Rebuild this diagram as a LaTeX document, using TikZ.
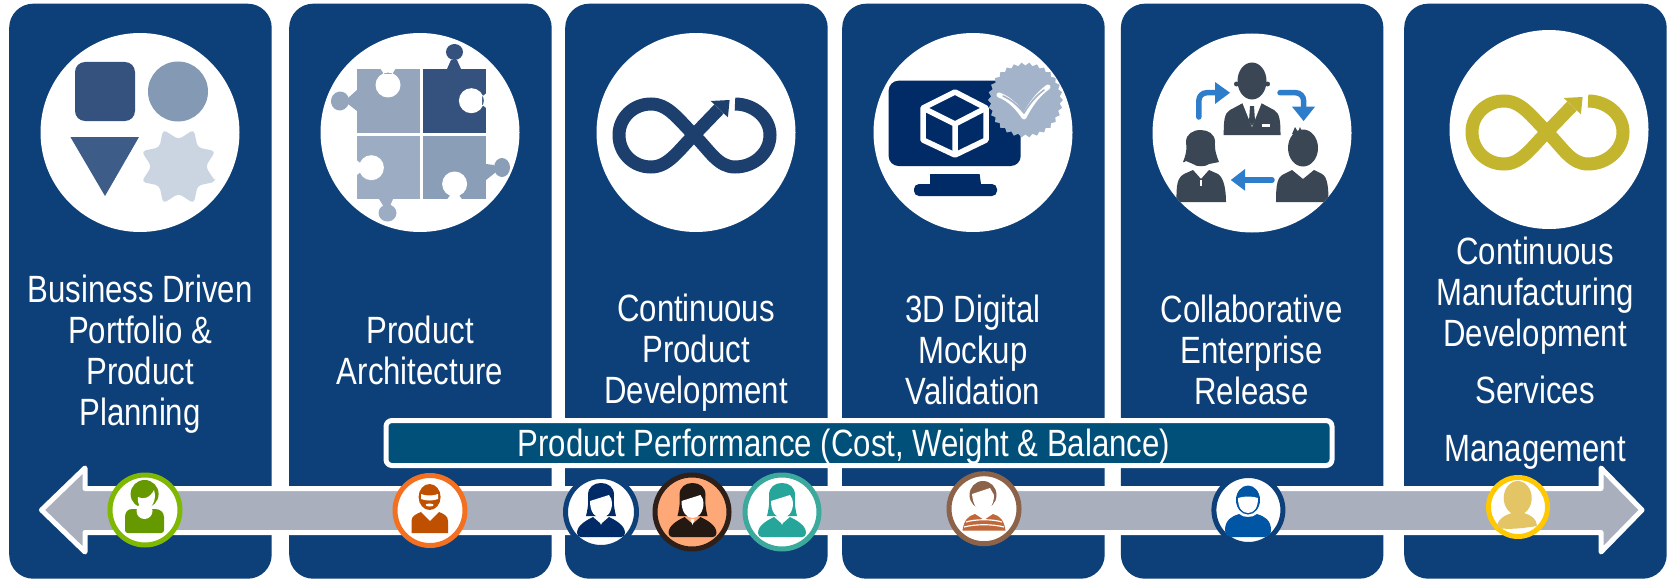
\documentclass[tikz,border=0pt]{standalone}
\usepackage{fontspec}
\setmainfont[FakeStretch=0.82]{Liberation Sans}
\definecolor{panelc}{HTML}{0D3F78}
\definecolor{bandc}{HTML}{A9AFBD}
\definecolor{titlec}{HTML}{00507A}
\definecolor{inkc}{HTML}{1C3F6E}
\definecolor{goldc}{HTML}{C4B52E}
\definecolor{navyc}{HTML}{002B66}
\definecolor{darkp}{HTML}{3A4654}
\definecolor{arrowb}{HTML}{2E7DCB}
\definecolor{sealc}{HTML}{A3B3CA}
\definecolor{pza}{HTML}{95A6BC}
\definecolor{pzb}{HTML}{35527F}
\definecolor{pzc}{HTML}{9CADC3}
\definecolor{pzd}{HTML}{8A9EB8}
\tikzset{
  x=1pt,y=-1pt,
  panel/.style={fill=panelc,rounded corners=24pt,minimum width=262.5pt,minimum height=575pt,anchor=north west,inner sep=0pt},
  disc/.style={circle,fill=white,minimum size=199pt,inner sep=0pt},
  caption/.style={align=center,text=white,font=\fontsize{38}{41}\selectfont,inner sep=0pt},
  avatar/.style={circle,line width=5pt,fill=white,inner sep=0pt},
  pics/infloop/.style={code={
    \draw[line width=13pt]
      (41,-31) .. controls (60,-31) and (76,-17) .. (76,0)
      .. controls (76,18) and (60,32) .. (41,32)
      .. controls (24,32) and (16,16) .. (0,0)
      .. controls (-16,-16) and (-26,-31) .. (-43,-31)
      .. controls (-61,-31) and (-75,-17) .. (-75,0)
      .. controls (-75,18) and (-61,32) .. (-43,32)
      .. controls (-26,32) and (-16,16) .. (0,0) -- (25,-26);
    \fill (16.7,-34) -- (35.6,-35) -- (33.9,-17.7) -- cycle;
  }},
  pics/longhair/.style={code={
    \fill (-15,4) .. controls (-12,-8) and (-13,-12) .. (-13,-17) .. controls (-13,-25) and (-7,-29) .. (0,-29)
      .. controls (7,-29) and (13,-25) .. (13,-17) .. controls (13,-12) and (12,-8) .. (15,4) -- cycle;
    \fill[white] (-11,-11) -- (8,-17) .. controls (10,-14) and (11,-12) .. (11,-9) .. controls (11,0) and (6,6) .. (0,6) .. controls (-6,6) and (-11,0) .. (-11,-11) -- cycle;
    \fill (-24,21) .. controls (-24,13) and (-14,8) .. (-8,5) -- (0,12) -- (8,5) .. controls (14,8) and (24,13) .. (24,21)
      .. controls (24,24) and (22,25) .. (20,25) -- (-20,25) .. controls (-22,25) and (-24,24) .. (-24,21) -- cycle;
    \fill[white] (-2,7) -- (2,7) -- (0,13) -- cycle;
  }}
}
\begin{document}
\begin{tikzpicture}
\useasboundingbox (0,0) rectangle (1667,578);
\fill[white] (0,0) rectangle (1667,578);
% panels
\node[panel] (p1) at (9,3.5) {};
\node[panel] (p2) at (289,3.5) {};
\node[panel] (p3) at (565,3.5) {};
\node[panel] (p4) at (842,3.5) {};
\node[panel] (p5) at (1120.7,3.5) {};
\node[panel] (p6) at (1404,3.5) {};
% discs
\node[disc] (c1) at (140,132.5) {};
\node[disc] (c2) at (420,132.5) {};
\node[disc] (c3) at (696,132.5) {};
\node[disc] (c4) at (973,132.5) {};
\node[disc] (c5) at (1252,133) {};
\node[disc] (c6) at (1549,129.5) {};
% captions
\node[caption] (t1) at (140,354) {Business Driven\\Portfolio \&\\Product\\Planning};
\node[caption] (t2) at (420,350) {Product\\Architecture};
\node[caption] (t3) at (696,353) {Continuous\\Product\\Development};
\node[caption] (t4) at (973,350) {3D Digital\\Mockup\\Validation};
\node[caption] (t5) at (1251.5,350) {Collaborative\\Enterprise\\Release};
\node[caption] (t6) at (1535,353) {Continuous\\Manufacturing\\Development\\[16pt]Services\\[17pt]Management};
% icon 1: shapes
\fill[pzb,rounded corners=10pt] (75,62) rectangle (135,121);
\fill[color={rgb,255:red,132;green,153;blue,179}] (178,91.5) circle [radius=30];
\fill[color={rgb,255:red,61;green,92;blue,135}] (70.4,137) -- (139,137) -- (105,196) -- cycle;
\begin{scope}[shift={(178.5,166.5)}]
\fill[color={rgb,255:red,203;green,212;blue,225},rounded corners=4pt]
  (22.5:40) \foreach \a in {45,90,...,360} {-- (\a:27) -- (\a+22.5:40)} -- cycle;
\end{scope}
% icon 2: puzzle
\fill[pza] (357,69) rectangle (420,133);
\fill[pzb] (423,69) rectangle (486,133);
\fill[pzc] (357,136) rectangle (420,199);
\fill[pzd] (423,136) rectangle (486,199);
\fill[white] (388,85) circle [radius=12.5] (384,74) -- (392,74) -- (396,68) -- (380,68) -- cycle;
\fill[white] (471.4,100.7) circle [radius=12.5] (482,96.7) -- (482,104.7) -- (487,108.7) -- (487,92.7) -- cycle;
\fill[white] (371.4,167.7) circle [radius=12.5] (361,163.7) -- (361,171.7) -- (356,175.7) -- (356,159.7) -- cycle;
\fill[white] (454.6,184) circle [radius=12.5] (450.6,195) -- (458.6,195) -- (462.6,200) -- (446.6,200) -- cycle;
\fill[pza] (357,90) -- (348,98) -- (348,104) -- (357,111) -- cycle;
\fill[pza,rotate around={-15:(340,101)}] (340,101) circle [x radius=9,y radius=9.5];
\fill[pzb] (447,69) -- (451,60) -- (457,60) -- (461,69) -- cycle;
\fill[pzb] (454.5,52) circle [x radius=8.5,y radius=8];
\fill[pzc] (379,199) -- (384,207) -- (390,206) -- (393,199) -- cycle;
\fill[pzc] (387.5,213) circle [x radius=9,y radius=8.5];
\fill[pzd] (486,164) -- (494,165) -- (496,172) -- (486,180) -- cycle;
\fill[pzd] (502,167.5) circle [x radius=8,y radius=9.5];
% icon 3 and 6: infinity
\pic[color=inkc] at (694,135) {infloop};
\pic[color=goldc] at (1547,132) {infloop};
% icon 4: monitor
\fill[navyc,rounded corners=10pt] (888.6,80.7) rectangle (1020.7,166);
\fill[navyc] (930,174) -- (979.6,174) -- (981,184) -- (930,184) -- cycle;
\fill[navyc,rounded corners=5pt] (914,184) rectangle (997,196);
\draw[white,line width=5.5pt,line join=round] (955,92) -- (986,108) -- (986,140) -- (955,155) -- (923,140) -- (923,108) -- cycle;
\draw[white,line width=5.5pt,line join=round] (923,108) -- (955,124) -- (986,108) (955,124) -- (955,155);
\begin{scope}[shift={(1025.4,100)}]
\fill[sealc] (0:37.5) \foreach \i in {0,...,29} {-- ({\i*12}:37.5) -- ({\i*12+6}:34.5)} -- cycle;
\end{scope}
\draw[white,line width=5pt,line join=round,line cap=round] (999,95) .. controls (1010,99) and (1018,108) .. (1024,117) .. controls (1030,105) and (1038,94) .. (1048,87);
\draw[sealc,line width=1.6pt,line join=round,line cap=round] (1003,96) .. controls (1012,100) and (1018,106) .. (1024,113) .. controls (1030,103) and (1036,96) .. (1044,90);
% icon 5: team
\begin{scope}
\clip (1252,133) circle [radius=99.5];
\fill[darkp] (1252,81) circle [x radius=14.5,y radius=18.5];
\fill[darkp] (1236.5,84) circle [radius=2.5] (1267.5,84) circle [radius=2.5];
\fill[darkp] (1223.7,135) .. controls (1223.7,122) and (1224,113) .. (1230,110) -- (1243,103) -- (1261,103) -- (1274,110) .. controls (1280,113) and (1280.5,122) .. (1280.5,135) -- cycle;
\fill[white] (1242,102) -- (1262,102) -- (1252,127) -- cycle;
\fill[darkp] (1250,106) -- (1254,106) -- (1255,121) -- (1252,126) -- (1249,121) -- cycle;
\fill[white] (1262,123.5) rectangle (1270,126.5);
\fill[darkp] (1186,161) .. controls (1183,163) and (1184,162) .. (1183,162) .. controls (1188,150) and (1186,145) .. (1186,142) .. controls (1186,134) and (1193,130) .. (1200.6,130) .. controls (1208,130) and (1215,134) .. (1215,142) .. controls (1215,145) and (1214,150) .. (1219,162) -- (1209,164) .. controls (1206,167) and (1196,167) .. (1193,164) -- cycle;
\fill[darkp] (1176.4,202) .. controls (1176.4,185) and (1177,178) .. (1184,174) -- (1193,170) -- (1201,179) -- (1209,170) -- (1218,174) .. controls (1224,178) and (1226,190) .. (1226,202) -- cycle;
\fill[white] (1200.4,180) rectangle (1201.6,186);
\fill[darkp] (1303,148) circle [x radius=15,y radius=18.5];
\fill[darkp] (1292,134) -- (1295,127) -- (1298,132) -- (1300,127) -- (1302,132) -- (1306,130) -- (1306,136) -- cycle;
\fill[darkp] (1276,202) .. controls (1276,185) and (1277,177) .. (1284,174) -- (1292,170) -- (1303,179) -- (1314,170) -- (1322,174) .. controls (1328,177) and (1328.5,190) .. (1328.5,202) -- cycle;
\end{scope}
\draw[arrowb,line width=5.5pt,line cap=round,rounded corners=8pt] (1198.8,117) -- (1198.8,92.7) -- (1217,92.7);
\fill[arrowb] (1215,82) -- (1230,92.7) -- (1215,104) -- cycle;
\draw[arrowb,line width=5.5pt,line cap=round,rounded corners=8pt] (1280,92.7) -- (1303.6,92.7) -- (1303.6,108);
\fill[arrowb] (1292,106.7) -- (1315,106.7) -- (1303.6,121) -- cycle;
\draw[arrowb,line width=5.5pt,line cap=round] (1272,180) -- (1244,180);
\fill[arrowb] (1245,169) -- (1230.8,180) -- (1245,190.7) -- cycle;
% timeline arrow
\draw[white,line width=5pt,line join=round,fill=bandc]
  (41.5,510) -- (85,468) -- (85,488.5) -- (1601,488.5) -- (1601,468) -- (1642,510) -- (1601,552) -- (1601,532.5) -- (85,532.5) -- (85,552) -- cycle;
% title bar
\node[draw=white,line width=5pt,fill=titlec,rounded corners=6pt,minimum width=946pt,minimum height=45pt,inner sep=0pt,text=white,font=\fontsize{38}{41}\selectfont] (bar) at (859,443) {\raisebox{-13pt}[0pt][0pt]{Product Performance (Cost, Weight \& Balance)}\hspace*{30pt}};
% avatars
\node[avatar,draw={rgb,255:red,127;green,184;blue,0},minimum size=70pt] (a1) at (145,510) {};
\begin{scope}[color={rgb,255:red,102;green,153;blue,0}]
\fill (144.6,494) circle [radius=14];
\fill[white] (138,497) .. controls (143,500) and (150,498) .. (154,490) .. controls (157,500) and (152,509) .. (145,509) .. controls (140,509) and (137,503) .. (138,497) -- cycle;
\fill (132,509) -- (155,509) .. controls (160,509) and (164,512) .. (164,517) -- (164,530) .. controls (164,532) and (163,533) .. (161,533) -- (128,533) .. controls (126,533) and (125,532) .. (125,530) -- (125,517) .. controls (125,512) and (128,509) .. (132,509) -- cycle;
\fill[white] (144.5,511) circle [radius=8];
\end{scope}
\node[avatar,draw={rgb,255:red,243;green,112;blue,33},minimum size=70pt] (a2) at (430,510.5) {};
\begin{scope}[color={rgb,255:red,191;green,80;blue,0}]
\fill (429.6,497) circle [x radius=11,y radius=13];
\fill[white] (421,494) .. controls (426,496) and (433,496) .. (438,494) -- (438,499) .. controls (433,501) and (426,501) .. (421,499) -- cycle;
\fill[white] (429.6,505) circle [x radius=4,y radius=1.5];
\fill (411.5,533) -- (411.5,521) .. controls (411.5,516) and (416,514) .. (421,512) -- (430,521) -- (439,512) .. controls (444,514) and (448,516) .. (448,521) -- (448,533) -- cycle;
\end{scope}
\node[avatar,draw=panelc,minimum size=71pt] (a3) at (601,512) {};
\pic[color=navyc] at (601,512) {longhair};
\node[avatar,draw={rgb,255:red,46;green,32;blue,24},fill={rgb,255:red,255;green,168;blue,119},minimum size=74pt] (a4) at (692,512) {};
\pic[color={rgb,255:red,35;green,24;blue,18}] at (692.5,512) {longhair};
\node[avatar,draw={rgb,255:red,59;green,169;blue,156},minimum size=74pt] (a5) at (782,512) {};
\pic[color={rgb,255:red,38;green,166;blue,154}] at (782,512) {longhair};
\node[avatar,draw={rgb,255:red,140;green,98;blue,72},minimum size=70pt] (a6) at (984,508.7) {};
\fill[color={rgb,255:red,140;green,98;blue,72}] (983,495) circle [x radius=13.5,y radius=14];
\fill[white] (972,494) -- (990,488) -- (994,495) .. controls (994,505) and (989,511) .. (983,511) .. controls (977,511) and (973,505) .. (972,494) -- cycle;
\fill[color={rgb,255:red,192;green,104;blue,58}] (962.5,530.5) .. controls (964,520) and (968,516) .. (975,514) -- (984,520) -- (993,514) .. controls (1000,516) and (1004,520) .. (1005.5,530.5) -- cycle;
\draw[white,line width=1.2pt] (966,522) .. controls (975,519) and (993,519) .. (1002,522) (964,527) .. controls (975,524) and (993,524) .. (1004,527);
\node[avatar,draw=panelc,minimum size=69pt] (a7) at (1248.4,510) {};
\begin{scope}[color={rgb,255:red,0;green,85;blue,165}]
\fill (1248,500) circle [x radius=12,y radius=14.5];
\fill[white] (1238,498) .. controls (1244,496) and (1252,496) .. (1258,498) .. controls (1258,508) and (1254,513) .. (1248,513) .. controls (1242,513) and (1238,508) .. (1238,498) -- cycle;
\fill (1225,530) .. controls (1225,520) and (1232,516) .. (1239,514) .. controls (1243,518) and (1253,518) .. (1257,514) .. controls (1264,516) and (1271,520) .. (1271,530) .. controls (1271,535) and (1268,537) .. (1265,537) -- (1231,537) .. controls (1228,537) and (1225,535) .. (1225,530) -- cycle;
\end{scope}
\node[avatar,draw={rgb,255:red,255;green,200;blue,0},minimum size=59pt] (a8) at (1518,507) {};
\begin{scope}[color={rgb,255:red,227;green,197;blue,101}]
\fill (1517.7,498) circle [x radius=14,y radius=17];
\fill (1497,528) .. controls (1497,519) and (1505,515) .. (1512,513) -- (1524,513) .. controls (1531,515) and (1537,519) .. (1537,526) .. controls (1524,528) and (1510,530) .. (1497,528) -- cycle;
\end{scope}
\end{tikzpicture}
\end{document}
